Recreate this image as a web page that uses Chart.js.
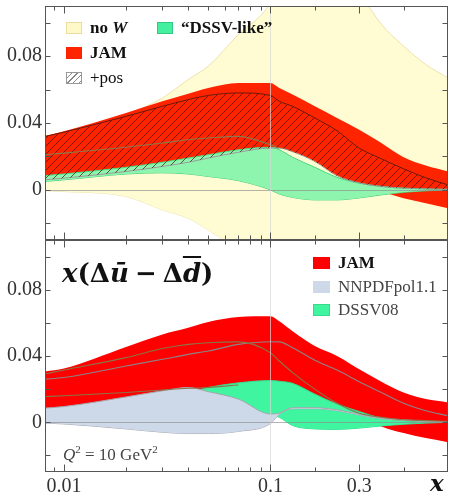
<!DOCTYPE html>
<html>
<head>
<meta charset="utf-8">
<script src="https://cdn.jsdelivr.net/npm/chart.js@4.4.1/dist/chart.umd.min.js"></script>
<style>
html, body { margin: 0; padding: 0; background: #fff; }
#wrap { position: relative; width: 449px; height: 493px; overflow: hidden;
        font-family: "Liberation Serif", "DejaVu Serif", serif; }
canvas { position: absolute; left: 0; }
.lg { position: absolute; height: 24px; display: flex; align-items: center;
      white-space: nowrap; font-size: 17px; color: #111; pointer-events: none; }
.sw { display: inline-block; width: 16px; height: 12px; margin-right: 8px; box-sizing: border-box; }
.note { position: absolute; white-space: nowrap; pointer-events: none; line-height: 1; }
</style>
</head>
<body>
<div id="wrap">
  <canvas id="topChart" width="449" height="240" style="top:0"></canvas>
  <canvas id="botChart" width="449" height="253" style="top:240px"></canvas>

  <!-- top legend -->
  <div class="lg" style="left:66px;top:15.5px"><span class="sw" style="background:#fff8c8;border:1px solid #e9dc9c"></span><b>no&nbsp;<i>W</i></b></div>
  <div class="lg" style="left:66px;top:40.5px"><span class="sw" style="background:#ff2400"></span><b>JAM</b></div>
  <div class="lg" style="left:66px;top:66px"><span class="sw" style="border:1px solid #999;background:repeating-linear-gradient(135deg,#fff 0 3px,#888 3px 4px)"></span>+pos</div>
  <div class="lg" style="left:157px;top:15.5px"><span class="sw" style="background:#44f0a0;border:1px solid #33c882"></span><b>“DSSV-like”</b></div>

  <!-- bottom legend -->
  <div class="lg" style="left:313px;top:250.5px"><span class="sw" style="width:17px;background:#ff0000"></span><b>JAM</b></div>
  <div class="lg" style="left:313px;top:275px;color:#444"><span class="sw" style="width:17px;background:#cdd8e8"></span>NNPDFpol1.1</div>
  <div class="lg" style="left:313px;top:297.5px;color:#444"><span class="sw" style="width:17px;background:#40f5a0;border:1px solid #38d890"></span>DSSV08</div>

  <div class="note" style="left:62px;top:260px;font-family:'DejaVu Serif',serif;font-size:26px;font-weight:bold;color:#111"><i>x</i>(Δ<i>ū</i><span style="margin:0 6px">−</span>Δ<i style="text-decoration:overline;text-decoration-thickness:2px">d</i>)</div>
  <div class="note" style="left:63px;top:444px;font-size:17px;color:#444"><i>Q</i><sup style="font-size:11px">2</sup> = 10 GeV<sup style="font-size:11px">2</sup></div>
  <div class="note" style="left:430px;top:470.6px;font-family:'DejaVu Serif',serif;font-size:23px;font-weight:bold;font-style:italic;color:#111">x</div>
</div>

<script>
// ── Axis: log below x = 0.1, linear above ────
const K = 2.15;               // decades per unit of x above 0.1
function xt(x) { return x <= 0.1 ? Math.log10(x) : -1 + (x - 0.1) * K; }
const X_MIN = 0.0081, X_MAX = 0.5;
const Y_MIN = -0.03, Y_MAX = 0.11;

const xLabelAt = [0.01, 0.1, 0.3];
const xLabels = ['0.01', '0.1', '0.3'];
const xMinorAt = [0.009, 0.02, 0.03, 0.04, 0.05, 0.06, 0.07, 0.08, 0.09, 0.2, 0.4];
const yTickAt = [-0.02, 0, 0.02, 0.04, 0.06, 0.08, 0.10];
const yLabelAt = [0, 0.04, 0.08];
const yLabels = ['0', '0.04', '0.08'];

// ── Data ─────────────────────────────────────
const X = [0.008, 0.01, 0.02, 0.03, 0.04, 0.05, 0.07, 0.1, 0.12, 0.15, 0.2, 0.25, 0.3, 0.35, 0.4, 0.45, 0.5];

// top panel
const noW_hi  = [0.032, 0.0345, 0.045, 0.055, 0.066, 0.074, 0.093, 0.112, 0.125, 0.135, 0.14, 0.132, 0.118, 0.099, 0.086, 0.075, 0.067];
const noW_lo  = [-0.0005, -0.001, -0.004, -0.012, -0.017, -0.024, -0.036, -0.05, -0.06, -0.06, -0.06, -0.06, -0.06, -0.06, -0.06, -0.06, -0.06];
const jamT_hi = [0.032, 0.035, 0.046, 0.053, 0.0575, 0.061, 0.064, 0.064, 0.061, 0.057, 0.050, 0.043, 0.036, 0.028, 0.0195, 0.0145, 0.011];
const jamT_lo = [0.0085, 0.0095, 0.0135, 0.0165, 0.019, 0.021, 0.024, 0.0255, 0.025, 0.0228, 0.017, 0.0085, 0.003, -0.001, -0.005, -0.008, -0.011];
const pos_hi  = [0.0318, 0.0345, 0.044, 0.050, 0.054, 0.0565, 0.058, 0.0565, 0.053, 0.050, 0.043, 0.0354, 0.025, 0.0186, 0.0126, 0.0072, 0.003];
const pos_lo  = [0.006, 0.007, 0.011, 0.014, 0.0165, 0.019, 0.0225, 0.025, 0.025, 0.0228, 0.017, 0.0085, 0.0042, 0.002, 0.001, 0.0006, 0.0004];
const dsT_hi  = [0.0085, 0.0095, 0.0135, 0.0165, 0.019, 0.021, 0.024, 0.0255, 0.024, 0.0195, 0.0135, 0.0075, 0.004, 0.002, 0.001, 0.0005, 0.0];
const dsT_lo  = [0.005, 0.006, 0.0095, 0.0102, 0.0095, 0.008, 0.0055, 0.0, -0.0025, -0.0045, -0.006, -0.006, -0.0048, -0.003, -0.0015, -0.0006, 0.0];
const jamT_mid = [0.021, 0.022, 0.0255, 0.028, 0.030, 0.031, 0.032, 0.027, 0.025, null, null, null, null, null, null, null, null];

// bottom panel
const jamB_hi = [0.0306, 0.0325, 0.0455, 0.053, 0.057, 0.0605, 0.0635, 0.064, 0.061, 0.055, 0.046, 0.040, 0.032, 0.0245, 0.018, 0.014, 0.012];
const jamB_lo = [0.0084, 0.009, 0.013, 0.016, 0.0185, 0.0205, 0.0235, 0.025, 0.024, 0.021, 0.016, 0.010, 0.004, -0.0025, -0.0065, -0.0095, -0.012];
const dss_hi  = [0.008, 0.009, 0.0125, 0.0155, 0.018, 0.021, 0.0238, 0.0252, 0.0248, 0.0235, 0.017, 0.011, 0.0065, 0.0025, 0.001, 0.0004, 0.0];
const dss_lo  = [0.003, 0.0035, 0.005, 0.006, 0.006, 0.006, 0.0055, 0.0045, 0.003, -0.002, -0.004, -0.0043, -0.0035, -0.0022, -0.0012, -0.0005, 0.0];
const nn_hi   = [0.0085, 0.0095, 0.0153, 0.019, 0.021, 0.0185, 0.014, 0.005, 0.0055, 0.0088, 0.0088, 0.0075, 0.0048, 0.0025, 0.0015, 0.0007, 0.0003];
const nn_lo   = [-0.0005, -0.001, -0.004, -0.006, -0.0068, -0.0068, -0.0055, -0.0008, 0.0048, 0.0082, 0.0082, 0.007, 0.0044, 0.0022, 0.0012, 0.0005, 0.0];
const line1   = [0.029, 0.0315, 0.039, 0.0445, 0.047, 0.048, 0.0485, 0.042, 0.037, 0.030, 0.020, 0.0115, 0.0055, 0.003, 0.0015, 0.001, 0.0005];
const line2   = [0.026, 0.027, 0.034, 0.038, 0.041, 0.043, 0.047, 0.0486, 0.0485, 0.045, 0.0375, 0.0315, 0.0245, 0.018, 0.0115, 0.007, 0.004];
const line3   = [0.0155, 0.016, 0.018, 0.0195, 0.0205, 0.021, 0.0225, null, null, null, null, null, null, null, null, null, null];

// ── Helpers ──────────────────────────────────
const pts = ys => X.map((x, i) => ({ x: xt(x), y: ys[i] }));

function hatch() {
    const s = 8, c = document.createElement('canvas');
    c.width = s; c.height = s;
    const g = c.getContext('2d');
    g.strokeStyle = 'rgba(60,10,0,0.75)';
    g.lineWidth = 0.9;
    g.beginPath();
    g.moveTo(0, s); g.lineTo(s, 0);
    g.moveTo(-1, 1); g.lineTo(1, -1);
    g.moveTo(s - 1, s + 1); g.lineTo(s + 1, s - 1);
    g.stroke();
    return g.createPattern(c, 'repeat');
}

function band(ys, fill, border, width) {
    return { data: pts(ys), fill: fill ? '+1' : false, backgroundColor: fill || 'transparent',
             borderColor: border || 'transparent', borderWidth: border ? (width || 1) : 0 };
}
function curve(ys, color) {
    return { data: pts(ys), fill: false, borderColor: color, borderWidth: 1.1 };
}

function hline(ctx, x1, y1, x2, y2) { ctx.beginPath(); ctx.moveTo(x1, y1); ctx.lineTo(x2, y2); ctx.stroke(); }

// zero line, x = 0.1 line, frame and inward ticks
const decor = {
    id: 'decor',
    afterDatasetsDraw(chart) {
        const { ctx, chartArea: a, scales: { x, y } } = chart;
        const L = Math.round(a.left) + 0.5, R = Math.round(a.right) - 0.5;
        const T = Math.round(a.top) + 0.5, B = Math.round(a.bottom) - 0.5;
        ctx.save();
        ctx.lineWidth = 1;
        ctx.strokeStyle = 'rgba(140,140,140,0.65)';
        const y0 = Math.round(y.getPixelForValue(0)) + 0.5;
        hline(ctx, L, y0, R, y0);
        ctx.strokeStyle = 'rgba(215,215,215,0.7)';
        const xv = Math.round(x.getPixelForValue(xt(0.1))) + 0.5;
        hline(ctx, xv, T, xv, B);

        ctx.strokeStyle = '#555';
        ctx.strokeRect(L, T, R - L, B - T);
        yTickAt.forEach(v => {
            const p = Math.round(y.getPixelForValue(v)) + 0.5;
            hline(ctx, L, p, L + 5, p);
            hline(ctx, R - 5, p, R, p);
        });
        const tickX = (v, len) => {
            const p = Math.round(x.getPixelForValue(xt(v))) + 0.5;
            hline(ctx, p, T, p, T + len);
            hline(ctx, p, B - len, p, B);
        };
        xLabelAt.forEach(v => tickX(v, 7));
        xMinorAt.forEach(v => tickX(v, 4));
        ctx.restore();
    }
};

const tickFont = { family: 'Liberation Serif', size: 20 };

function noPad(s) { s.paddingTop = 0; s.paddingBottom = 0; s.paddingLeft = 0; s.paddingRight = 0; }

function makeChart(id, datasets, showX) {
    return new Chart(document.getElementById(id), {
        type: 'line',
        data: { datasets },
        options: {
            responsive: false,
            animation: false,
            layout: { padding: { top: showX ? 0 : 6, right: 1, left: 0, bottom: 0 } },
            elements: { point: { radius: 0 }, line: { cubicInterpolationMode: 'monotone' } },
            plugins: { legend: { display: false }, tooltip: { enabled: false } },
            scales: {
                x: {
                    type: 'linear', min: xt(X_MIN), max: xt(X_MAX), display: showX,
                    grid: { display: false, drawTicks: false }, border: { display: false },
                    afterBuildTicks: s => { s.ticks = xLabelAt.map(v => ({ value: xt(v) })); },
                    afterFit: s => { s.height = showX ? 21 : 0; noPad(s); },
                    ticks: { callback: (v, i) => xLabels[i], font: tickFont, color: '#333',
                             padding: 3, maxRotation: 0, autoSkip: false }
                },
                y: {
                    min: Y_MIN, max: Y_MAX,
                    grid: { display: false, drawTicks: false }, border: { display: false },
                    afterBuildTicks: s => { s.ticks = yTickAt.map(v => ({ value: v })); },
                    afterFit: s => { s.width = 45; noPad(s); },
                    ticks: {
                        callback: v => { const k = yLabelAt.findIndex(t => Math.abs(t - v) < 1e-9); return k < 0 ? '' : yLabels[k]; },
                        font: tickFont, color: '#333', padding: 3, autoSkip: false
                    }
                }
            }
        },
        plugins: [decor]
    });
}

// ── Build ────────────────────────────────────
makeChart('topChart', [
    curve(jamT_mid, '#8a7a4e'),
    band(pos_hi, hatch(), '#6a1a0a', 1),
    band(pos_lo, null, '#9a9a9a', 1),
    band(dsT_hi, '#8ef5ae', '#48d882', 1),
    band(dsT_lo, null, '#3ccf78', 1),
    band(jamT_hi, '#ff2400'),
    band(jamT_lo, null),
    band(noW_hi, '#fffcd4', '#ece2aa', 1),
    band(noW_lo, null, '#ece2aa', 1),
], false);

makeChart('botChart', [
    curve(line3, '#8a7448'),
    curve(line1, '#8a7448'),
    curve(line2, '#8c8484'),
    band(nn_hi, '#cdd8e8', '#a6a6ae', 1),
    band(nn_lo, null, '#a6a6ae', 1),
    band(dss_hi, '#40f5a0', '#34d88e', 1),
    band(dss_lo, null, '#34d88e', 1),
    band(jamB_hi, '#ff0000'),
    band(jamB_lo, null),
], true);
</script>
</body>
</html>
